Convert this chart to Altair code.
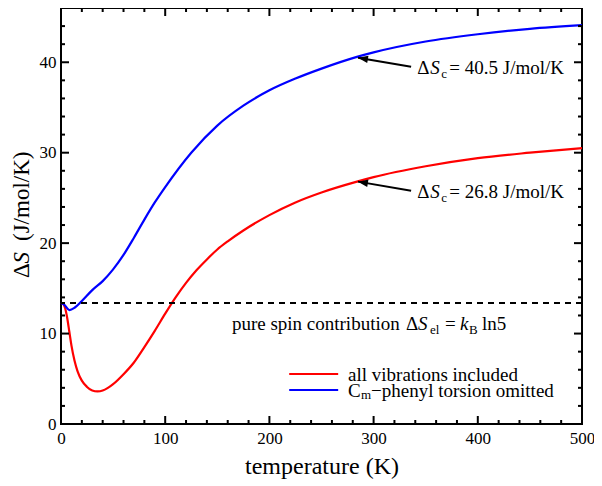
import altair as alt
import pandas as pd

# ---- data ----
T_red = [0, 2, 4, 6, 8, 10, 13, 16, 20, 25, 30, 35, 40, 45, 50, 60, 70, 80, 90, 100, 110, 120, 130,
         140, 150, 160, 175, 200, 225, 250, 284, 300, 350, 400, 450, 500]
S_red = [13.38, 13.3, 12.8, 11.7, 10.2, 8.7, 7.0, 5.8, 4.8, 4.1, 3.7, 3.6, 3.7, 4.0, 4.4, 5.5, 6.8, 8.5, 10.3,
         12.2, 14.0, 15.6, 17.0, 18.2, 19.3, 20.2, 21.4, 23.1, 24.5, 25.6, 26.8, 27.3, 28.5, 29.4, 30.0, 30.5]
T_blue = [0, 3, 8, 13, 20, 30, 40, 50, 60, 70, 80, 90, 100, 125, 150, 175, 200, 225, 250, 284, 300, 350,
          400, 450, 500]
S_blue = [13.38, 13.2, 12.6, 12.85, 13.6, 14.8, 15.8, 17.1, 18.7, 20.6, 22.6, 24.5, 26.2, 30.0, 33.0, 35.2,
          36.9, 38.2, 39.3, 40.6, 41.1, 42.3, 43.1, 43.7, 44.1]
series_names = ["all vibrations included", "Cm-phenyl torsion omitted"]
series_colors = ["#ff0000", "#0000ff"]
spin_value = 13.38

x_major = [0, 100, 200, 300, 400, 500]
x_minor = [20, 40, 60, 80, 120, 140, 160, 180, 220, 240, 260, 280, 320, 340, 360, 380, 420, 440, 460, 480]
y_major = [0, 10, 20, 30, 40]
y_minor = [2, 4, 6, 8, 12, 14, 16, 18, 22, 24, 26, 28, 32, 34, 36, 38, 42, 44]

# annotation arrows (tip on curve, tail near label)
arrow_tip_T = [285, 285]
arrow_tip_S = [40.5, 26.8]
arrow_tail_T = [336, 336]
arrow_tail_S = [39.5, 25.8]
annot_values = ["40.5", "26.8"]
annot_T = [342, 342]
annot_S = [38.7, 25.0]

spin_T, spin_S = 164, 10.4

legend_T1, legend_T2, legend_text_T = 219, 266, 275.5
legend_S = [5.53, 3.76]

W, H = 521, 416
FONT = "Liberation Serif, Times New Roman, serif"

xs = alt.Scale(domain=[0, 500], nice=False, zero=False)
ys = alt.Scale(domain=[0, 46], nice=False, zero=False)
x_axis = alt.Axis(values=x_major, ticks=False, domain=False, grid=False, labelFontSize=17,
                  labelPadding=6, title="temperature (K)", titleFontSize=24, titlePadding=8,
                  titleFontWeight="normal", labelFlush=False, labelFont=FONT, titleFont=FONT)
y_axis = alt.Axis(values=y_major, ticks=False, domain=False, grid=False, labelFontSize=17,
                  labelPadding=5, title=None, labelFont=FONT)
X = lambda f="T": alt.X(f"{f}:Q", scale=xs, axis=x_axis)
Y = lambda f="S": alt.Y(f"{f}:Q", scale=ys, axis=y_axis)

curves = pd.DataFrame({
    "T": T_red + T_blue,
    "S": S_red + S_blue,
    "series": [series_names[0]] * len(T_red) + [series_names[1]] * len(T_blue),
})

layers = []
layers.append(
    alt.Chart(curves).mark_line(strokeWidth=2.2, interpolate="monotone").encode(
        x=X(), y=Y(),
        color=alt.Color("series:N", scale=alt.Scale(domain=series_names, range=series_colors), legend=None),
        detail="series:N",
    )
)
layers.append(
    alt.Chart(pd.DataFrame({"S": [spin_value]})).mark_rule(strokeDash=[6, 5], strokeWidth=2, color="black").encode(y=Y())
)

def ticks(vals, side, length):
    if side in ("bottom", "top"):
        df = pd.DataFrame({"T": vals})
        y0, y1 = (H, H - length) if side == "bottom" else (0, length)
        return alt.Chart(df).mark_rule(strokeWidth=2, color="black").encode(
            x=X(), y=alt.value(y0), y2=alt.value(y1))
    df = pd.DataFrame({"S": vals})
    x0, x1 = (0, length) if side == "left" else (W, W - length)
    return alt.Chart(df).mark_rule(strokeWidth=2, color="black").encode(
        y=Y(), x=alt.value(x0), x2=alt.value(x1))

for side in ("bottom", "top"):
    layers.append(ticks(x_major, side, 8))
    layers.append(ticks(x_minor, side, 4))
for side in ("left", "right"):
    layers.append(ticks(y_major[1:], side, 8))
    layers.append(ticks(y_minor, side, 4))

arrows = pd.DataFrame({"T": arrow_tail_T, "S": arrow_tail_S, "T2": arrow_tip_T, "S2": arrow_tip_S})
layers.append(
    alt.Chart(arrows).mark_rule(strokeWidth=2, color="black").encode(
        x=X(), y=Y(), x2="T2:Q", y2="S2:Q")
)
heads = pd.DataFrame({"T": arrow_tip_T, "S": arrow_tip_S})
layers.append(
    alt.Chart(heads).mark_point(shape="M0,0L-2,-0.75L-2,0.75Z", size=100, angle=189.6,
                                filled=True, color="black", opacity=1).encode(x=X(), y=Y())
)

pieces = []
for t, s, v in zip(annot_T, annot_S, annot_values):
    pieces += [(t, s, 0, 0, "\u0394", "n"), (t, s, 13, 0, "S", "i"), (t, s, 24, 4, "c", "sub"),
               (t, s, 32, 0, f"= {v} J/mol/K", "n")]
pieces += [
    (spin_T, spin_S, 0, 0, "pure spin contribution", "n"),
    (spin_T, spin_S, 174, 0, "\u0394", "n"),
    (spin_T, spin_S, 186, 0, "S", "i"),
    (spin_T, spin_S, 198, 4, "el", "sub"),
    (spin_T, spin_S, 213, 0, "=", "n"),
    (spin_T, spin_S, 228, 0, "k", "i"),
    (spin_T, spin_S, 237, 4, "B", "sub"),
    (spin_T, spin_S, 250, 0, "ln5", "n"),
]
styles = {"n": dict(fontSize=19), "i": dict(fontSize=19, fontStyle="italic"), "sub": dict(fontSize=13)}
for t, s, dx, dy, txt, st in pieces:
    layers.append(
        alt.Chart(pd.DataFrame({"T": [t], "S": [s], "txt": [txt]})).mark_text(
            align="left", baseline="alphabetic", dx=dx, dy=dy, color="black", font=FONT, **styles[st]
        ).encode(x=X(), y=Y(), text="txt:N")
    )

leg = pd.DataFrame({"T": [legend_T1] * 2, "T2": [legend_T2] * 2, "S": legend_S, "series": series_names})
layers.append(
    alt.Chart(leg).mark_rule(strokeWidth=2.2).encode(
        x=X(), x2="T2:Q", y=Y(),
        color=alt.Color("series:N", scale=alt.Scale(domain=series_names, range=series_colors), legend=None))
)
leg_pieces = [
    (legend_S[0], 0, 0, "all vibrations included", "n"),
    (legend_S[1], 0, 0, "C", "n"),
    (legend_S[1], 13, 4, "m", "sub"),
    (legend_S[1], 23, 0, "\u2212phenyl torsion omitted", "n"),
]
for s, dx, dy, txt, st in leg_pieces:
    layers.append(
        alt.Chart(pd.DataFrame({"T": [legend_text_T], "S": [s], "txt": [txt]})).mark_text(
            align="left", baseline="middle", dx=dx, dy=dy + 1, color="black", font=FONT, **styles[st]
        ).encode(x=X(), y=Y(), text="txt:N")
    )

ytitle = [(270, "\u0394", "normal"), (255.5, "S", "italic"), (233, "(J/mol/K)", "normal")]
for py, txt, fs in ytitle:
    layers.append(
        alt.Chart(pd.DataFrame({"txt": [txt]})).mark_text(
            align="left", baseline="middle", angle=270, fontSize=23, fontStyle=fs, font=FONT, color="black"
        ).encode(x=alt.value(-39), y=alt.value(py), text="txt:N")
    )

chart = alt.layer(*layers).properties(
    width=W, height=H,
    autosize=alt.AutoSizeParams(type="none"),
    padding={"left": 53, "top": 0, "right": 12, "bottom": 62},
).configure_view(stroke="black", strokeWidth=2).configure_axis(
    labelColor="black", titleColor="black"
)

chart.save("out.html", embed_options={"renderer": "svg", "actions": False})
